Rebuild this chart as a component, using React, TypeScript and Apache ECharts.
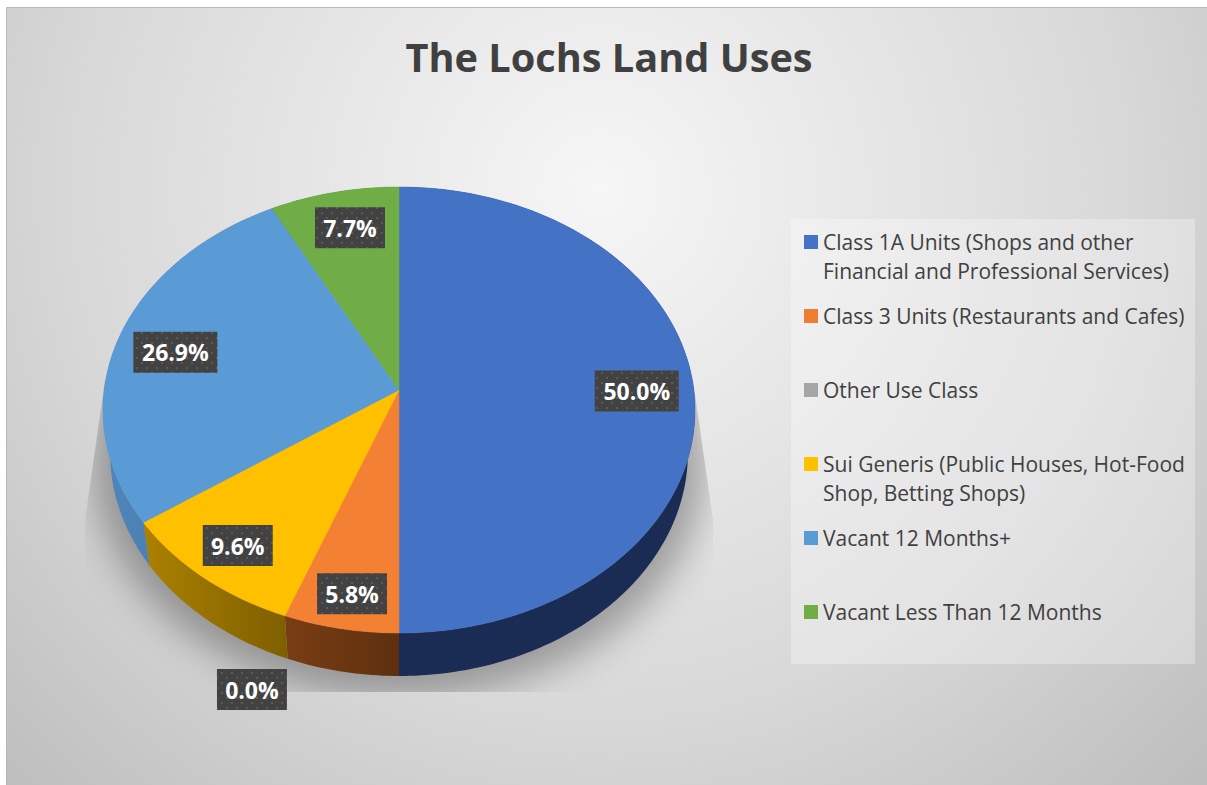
import React, { useEffect, useRef } from "react";
import * as echarts from "echarts";

const TITLE = "The Lochs Land Uses";
const CATEGORIES = [
  "Class 1A Units (Shops and other Financial and Professional Services)",
  "Class 3 Units (Restaurants and Cafes)",
  "Other Use Class",
  "Sui Generis (Public Houses, Hot-Food Shop, Betting Shops)",
  "Vacant 12 Months+",
  "Vacant Less Than 12 Months",
];
const LEGEND_LABELS = [
  "\nClass 1A Units (Shops and other\nFinancial and Professional Services)",
  "\nClass 3 Units (Restaurants and Cafes)\n",
  "\nOther Use Class\n",
  "\nSui Generis (Public Houses, Hot-Food\nShop, Betting Shops)",
  "\nVacant 12 Months+\n",
  "\nVacant Less Than 12 Months\n",
];
const VALUES = [26, 3, 0, 5, 14, 4];
const COLORS = ["#4472c4", "#ed7d31", "#a5a5a5", "#ffc000", "#5b9bd5", "#70ad47"];
const TOP_COLORS = ["#4472c4", "#f38033", "#a5a5a5", "#ffc000", "#5b9bd5", "#70ad47"];
const SIDE_COLORS = [
  ["#1a2c54", "#1a2c54"],
  ["#7a3d14", "#5e300e"],
  ["#636363", "#636363"],
  ["#ab8100", "#7f6000"],
  ["#4f86bb", "#44719b"],
  ["#43682b", "#43682b"],
];

const FONT = "'Open Sans', sans-serif";
const CX = 399;
const CY = 390;
const RX = 294.8;
const RY = 221.2;
const K = 0.0897;
const DEPTH = 43;
const BASE_SCALE = 0.976;
const LABEL_R = 0.82;
const LABEL_SHIFT = [
  [-4, 1],
  [0, 11.5],
  [-55, 117.5],
  [-3, 4],
  [7, 5],
  [5, 2],
];

function project(frac: number, r: number): [number, number] {
  const t = frac * Math.PI * 2;
  const u = Math.sin(t) * r;
  const v = -Math.cos(t) * r;
  const w = 1 - K * v;
  return [CX + (RX * u) / w, CY + (RY * v) / w];
}

function makeDots(): HTMLCanvasElement {
  const c = document.createElement("canvas");
  c.width = 10;
  c.height = 10;
  const g = c.getContext("2d")!;
  g.fillStyle = "#424242";
  g.fillRect(0, 0, 10, 10);
  g.fillStyle = "rgba(255,255,255,0.16)";
  for (const [x, y] of [[2, 3], [7, 8]]) {
    g.beginPath();
    g.arc(x, y, 1.1, 0, Math.PI * 2);
    g.fill();
  }
  return c;
}

function makeShadow(): HTMLCanvasElement {
  const c = document.createElement("canvas");
  c.width = 1207;
  c.height = 785;
  const g = c.getContext("2d")!;
  g.beginPath();
  g.moveTo(105, 380);
  g.lineTo(85, 520);
  g.lineTo(85, 692);
  g.lineTo(713, 692);
  g.lineTo(713, 520);
  g.lineTo(693, 380);
  g.closePath();
  g.clip();
  (g as any).filter = "blur(18px)";
  g.fillStyle = "rgba(0,0,0,0.3)";
  g.beginPath();
  g.ellipse(399, 462, 306, 236, 0, 0, Math.PI * 2);
  g.fill();
  return c;
}

export default function App() {
  const ref = useRef<HTMLDivElement>(null);
  useEffect(() => {
    const chart = echarts.init(ref.current!, null, { renderer: "svg" });
    const total = VALUES.reduce((a, b) => a + b, 0);
    const dots = makeDots();
    const shadow = makeShadow();
    const series = CATEGORIES.map((name, i) => {
      const before = VALUES.slice(0, i).reduce((a, b) => a + b, 0);
      return {
        type: "custom",
        name,
        coordinateSystem: "none",
        silent: true,
        itemStyle: { color: COLORS[i] },
        data: [[VALUES[i]]],
        renderItem: (_p: any, api: any) => {
          const value = api.value(0) as number;
          const a0 = before / total;
          const a1 = (before + value) / total;
          const rim: [number, number][] = [];
          const steps = Math.max(1, Math.ceil((a1 - a0) * 360));
          if (value > 0) {
            for (let s = 0; s <= steps; s++) rim.push(project(a0 + ((a1 - a0) * s) / steps, 1));
          }
          const base = rim.map(([x, y]) => [CX + (x - CX) * BASE_SCALE, y + DEPTH]);
          const xs = rim.map((p) => p[0]);
          const children: any[] = [];
          if (value > 0) {
            children.push({
              type: "polygon",
              z2: 1,
              shape: { points: [...rim, ...base.slice().reverse()] },
              style: {
                fill: {
                  type: "linear",
                  global: true,
                  x: Math.min(...xs),
                  y: 0,
                  x2: Math.max(...xs),
                  y2: 0,
                  colorStops: [
                    { offset: 0, color: SIDE_COLORS[i][0] },
                    { offset: 1, color: SIDE_COLORS[i][1] },
                  ],
                },
              },
            });
            children.push({
              type: "polygon",
              z2: 2,
              shape: { points: [[CX, CY], ...rim] },
              style: { fill: TOP_COLORS[i], stroke: TOP_COLORS[i], lineWidth: 0.5 },
            });
          }
          const text = ((value / total) * 100).toFixed(1) + "%";
          const [lx0, ly0] = project((a0 + a1) / 2, LABEL_R);
          const lx = lx0 + LABEL_SHIFT[i][0];
          const ly = ly0 + LABEL_SHIFT[i][1];
          const w = text.length === 5 ? 84 : 70;
          children.push({
            type: "rect",
            z2: 5,
            shape: { x: lx - w / 2, y: ly - 20.5, width: w, height: 41 },
            style: { fill: { image: dots, repeat: "repeat" } },
          });
          children.push({
            type: "text",
            z2: 6,
            x: lx,
            y: ly,
            style: {
              text,
              fill: "#ffffff",
              font: `bold 23px ${FONT}`,
              align: "center",
              verticalAlign: "middle",
            },
          });
          return { type: "group", children };
        },
      };
    });
    chart.setOption({
      animation: false,
      title: {
        text: TITLE,
        left: 604,
        top: 32,
        textAlign: "center",
        textStyle: { fontFamily: FONT, fontSize: 39.7, fontWeight: "bold", color: "#404040" },
      },
      legend: {
        left: 804,
        top: 198.5,
        orient: "vertical",
        padding: 0,
        icon: "rect",
        itemWidth: 14,
        itemHeight: 14,
        itemGap: -13,
        selectedMode: false,
        formatter: (name: string) => LEGEND_LABELS[CATEGORIES.indexOf(name)],
        textStyle: { fontFamily: FONT, fontSize: 21, lineHeight: 29, color: "#404040" },
        data: CATEGORIES,
      },
      graphic: [
        {
          type: "rect",
          silent: true,
          z: 0,
          shape: { x: 6.5, y: 7.5, width: 1201, height: 778 },
          style: {
            stroke: "#b8b8b8",
            lineWidth: 1,
            fill: {
              type: "radial",
              global: true,
              x: 600,
              y: 190,
              r: 850,
              colorStops: [
                { offset: 0, color: "#f6f6f6" },
                { offset: 0.62, color: "#d8d8d8" },
                { offset: 1, color: "#bdbdbd" },
              ],
            },
          },
        },
        {
          type: "image",
          silent: true,
          z: 1,
          style: { image: shadow, x: 0, y: 0, width: 1207, height: 785 },
        },
        {
          type: "rect",
          silent: true,
          z: 1,
          shape: { x: 791, y: 219, width: 404, height: 445 },
          style: { fill: "rgba(255,255,255,0.3)" },
        },
      ],
      series,
    });
    return () => chart.dispose();
  }, []);
  return <div ref={ref} style={{ position: "absolute", left: 0, top: 0, width: 1207, height: 785 }} />;
}
